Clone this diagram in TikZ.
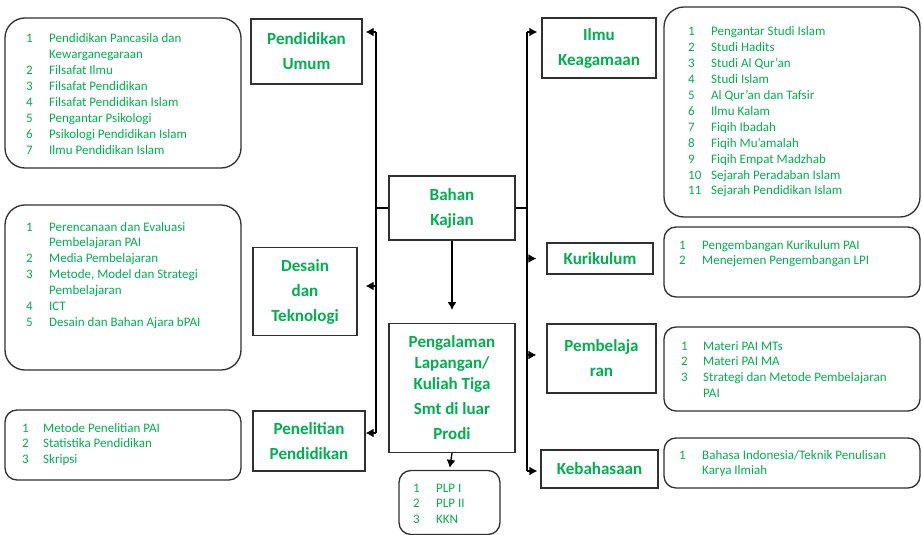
\documentclass[tikz,border=0pt]{standalone}
\usepackage{fontspec}
\setmainfont{Carlito}
\usetikzlibrary{arrows.meta,calc}
\definecolor{tgreen}{HTML}{00B050}
\definecolor{bord}{HTML}{303030}
\begin{document}
\begin{tikzpicture}[x=1pt,y=-1pt,
  tbox/.style={draw=bord, line width=1.3pt, fill=white, text=tgreen,
    font=\fontsize{17}{25}\selectfont\bfseries, align=center, inner sep=0pt},
  lbox/.style={draw=bord, line width=1.3pt, rounded corners=20pt, inner sep=0pt},
  sbox/.style={lbox, rounded corners=12pt},
  ltext/.style={text=tgreen, inner sep=0pt, anchor=base west,
    font=\fontsize{13}{15.9}\selectfont},
  con/.style={line width=1.3pt, black},
  arr/.style={con, -{Latex[length=8pt,width=9pt]}}]

\useasboundingbox (0,0) rectangle (922,535);

% ---- title boxes ----
\node[tbox, minimum width=111pt, minimum height=65pt] (pu) at (306.5,51.5) {Pendidikan\\Umum};
\node[tbox, minimum width=104pt, minimum height=88pt] (des) at (305,291.5) {Desain\\dan\\Teknologi};
\node[tbox, minimum width=112pt, minimum height=60pt] (pen) at (309,441) {Penelitian\\Pendidikan};
\node[tbox, minimum width=126pt, minimum height=64pt] (bk) at (452,208) {Bahan\\Kajian};
\node[tbox, minimum width=126pt, minimum height=129pt] (pl) at (452,388)
  {Pengalaman\\[-4pt]Lapangan/\\[-4pt]Kuliah Tiga\\Smt di luar\\Prodi};
\node[tbox, minimum width=114pt, minimum height=60pt] (ik) at (599,48) {Ilmu\\Keagamaan};
\node[tbox, minimum width=106pt, minimum height=31pt] (kur) at (600,258.5) {Kurikulum};
\node[tbox, minimum width=109pt, minimum height=69pt] (pem) at (601.5,358.5) {Pembelaja\\ran};
\node[tbox, minimum width=117pt, minimum height=38pt] (keb) at (599.5,469) {Kebahasaan};

% ---- list boxes ----
\node[lbox, minimum width=236pt, minimum height=150pt] (lb1) at (123,93) {};
\node[lbox, minimum width=236pt, minimum height=165pt] (lb2) at (123,287.5) {};
\node[sbox, minimum width=236pt, minimum height=70pt] (lb3) at (123,445) {};
\node[lbox, minimum width=256pt, minimum height=210pt] (rb1) at (792,112) {};
\node[sbox, minimum width=256pt, minimum height=70pt] (rb2) at (792,262) {};
\node[sbox, minimum width=256pt, minimum height=84pt] (rb3) at (792,369) {};
\node[sbox, minimum width=256pt, minimum height=50pt] (rb4) at (792,463) {};
\node[sbox, minimum width=101pt, minimum height=64pt] (plp) at (449.5,502.5) {};

% ---- list texts ----
\node[ltext] (lt1) at (26,43) {\begin{tabular}[t]{@{}p{23pt}@{}l@{}}
1 & Pendidikan Pancasila dan\\
  & Kewarganegaraan\\
2 & Filsafat Ilmu\\
3 & Filsafat Pendidikan\\
4 & Filsafat Pendidikan Islam\\
5 & Pengantar Psikologi\\
6 & Psikologi Pendidikan Islam\\
7 & Ilmu Pendidikan Islam
\end{tabular}};
\node[ltext] (lt2) at (26,231) {\begin{tabular}[t]{@{}p{23pt}@{}l@{}}
1 & Perencanaan dan Evaluasi\\
  & Pembelajaran PAI\\
2 & Media Pembelajaran\\
3 & Metode, Model dan Strategi\\
  & Pembelajaran\\
4 & ICT\\
5 & Desain dan Bahan Ajara bPAI
\end{tabular}};
\node[ltext] (lt3) at (22,432) {\begin{tabular}[t]{@{}p{21pt}@{}l@{}}
1 & Metode Penelitian PAI\\
2 & Statistika Pendidikan\\
3 & Skripsi
\end{tabular}};
\node[ltext] (rt1) at (688,36) {\begin{tabular}[t]{@{}p{23pt}@{}l@{}}
1 & Pengantar Studi Islam\\
2 & Studi Hadits\\
3 & Studi Al Qur’an\\
4 & Studi Islam\\
5 & Al Qur’an dan Tafsir\\
6 & Ilmu Kalam\\
7 & Fiqih Ibadah\\
8 & Fiqih Mu’amalah\\
9 & Fiqih Empat Madzhab\\
10 & Sejarah Peradaban Islam\\
11 & Sejarah Pendidikan Islam
\end{tabular}};
\node[ltext] (rt2) at (679,249) {\begin{tabular}[t]{@{}p{23pt}@{}l@{}}
1 & Pengembangan Kurikulum PAI\\
2 & Menejemen Pengembangan LPI
\end{tabular}};
\node[ltext] (rt3) at (681,350) {\begin{tabular}[t]{@{}p{22pt}@{}l@{}}
1 & Materi PAI MTs\\
2 & Materi PAI MA\\
3 & Strategi dan Metode Pembelajaran\\
  & PAI
\end{tabular}};
\node[ltext] (rt4) at (679,459) {\begin{tabular}[t]{@{}p{23pt}@{}l@{}}
1 & Bahasa Indonesia/Teknik Penulisan\\
  & Karya Ilmiah
\end{tabular}};
\node[ltext] (pt) at (413,492) {\begin{tabular}[t]{@{}p{23pt}@{}l@{}}
1 & PLP I\\
2 & PLP II\\
3 & KKN
\end{tabular}};

% ---- connectors ----
\coordinate (ltop) at (376,32);
\coordinate (ldes) at (376,286);
\coordinate (lbot) at (376,433);
\coordinate (rtop) at (527,32);
\coordinate (rpem) at (527,355);
\coordinate (rbot) at (527,471);
\coordinate (bkarr) at (452,310);

\draw[con] (ltop) -- (lbot);
\draw[con] (rtop) -- (rbot);
\draw[con] (bk.west) -- (bk.west -| ltop);
\draw[con] (bk.east) -- (bk.east -| rtop);

\draw[arr, shorten >=3pt] (ltop) -- (ltop -| pu.east);
\draw[arr, shorten >=8pt] (ldes) -- (ldes -| des.east);
\draw[arr] (lbot) -- (lbot -| pen.east);
\draw[arr, shorten >=4pt] (rtop) -- (rtop -| ik.west);
\draw[arr, shorten >=10pt] (rtop |- kur.west) -- (kur.west);
\draw[arr, shorten >=10pt] (rpem) -- (rpem -| pem.west);
\draw[arr, shorten >=3pt] (rbot) -- (rbot -| keb.west);
\draw[arr] (bk.south) -- (bkarr);
\draw[arr, shorten >=2pt] (pl.south) -- (plp.north);
\end{tikzpicture}
\end{document}
